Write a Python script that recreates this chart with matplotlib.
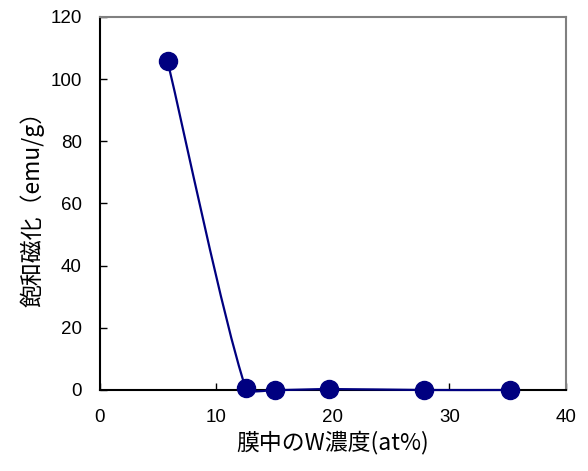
import numpy as np
import matplotlib
matplotlib.use("Agg")
import matplotlib.pyplot as plt
from matplotlib.path import Path
from matplotlib.patches import PathPatch

# W concentration in film (at%) vs saturation magnetization (emu/g)
w_conc = [5.8, 12.5, 15.0, 19.7, 27.8, 35.2]
sat_mag = [105.8, 0.6, 0.0, 0.3, 0.0, 0.0]

x_ticks = [0, 10, 20, 30, 40]
y_ticks = [0, 20, 40, 60, 80, 100, 120]

navy = "#000080"

fig = plt.figure(figsize=(5.88, 4.71), dpi=100)
ax = fig.add_axes([0.170, 0.172, 0.7926, 0.792])
ax.set_xlim(0, 40)
ax.set_ylim(0, 120)

# smoothed line like a spreadsheet "smooth line": Bezier through the points,
# control handles sized by the neighbouring segment length in screen space
sx, sy = 466 / 40, 373 / 120
pts = np.column_stack([np.array(w_conc) * sx, np.array(sat_mag) * sy])
n = len(pts)
tang = []
for i in range(n):
    a = pts[max(i - 1, 0)]
    b = pts[min(i + 1, n - 1)]
    d = b - a
    tang.append(d / np.hypot(*d))
verts = [pts[0]]
codes = [Path.MOVETO]
for i in range(n - 1):
    L = np.hypot(*(pts[i + 1] - pts[i]))
    c1 = pts[i] + tang[i] * L * 0.22
    c2 = pts[i + 1] - tang[i + 1] * L * 0.22
    verts += [c1, c2, pts[i + 1]]
    codes += [Path.CURVE4] * 3
verts = np.array(verts) / [sx, sy]
ax.add_patch(PathPatch(Path(verts, codes), facecolor="none", edgecolor=navy,
                       lw=1.6, zorder=3, clip_on=False))
ax.plot(w_conc, sat_mag, linestyle="none", marker="o", markersize=13,
        color=navy, zorder=4, clip_on=False)

ax.set_xticks(x_ticks)
ax.set_yticks(y_ticks)
ax.tick_params(direction="in", length=5, width=1, labelsize=13.5)
ax.tick_params(axis="x", pad=14)
ax.tick_params(axis="y", pad=13)
for lab in ax.get_xticklabels() + ax.get_yticklabels():
    lab.set_family("Liberation Sans")

for side in ["left", "bottom"]:
    ax.spines[side].set_color("black")
    ax.spines[side].set_linewidth(1.5)
for side in ["top", "right"]:
    ax.spines[side].set_color("#808080")
    ax.spines[side].set_linewidth(1.5)

jp = ["Noto Sans CJK JP", "DejaVu Sans"]
ax.set_xlabel("膜中のW濃度(at%)", family=jp, fontsize=16.5, labelpad=3)
ax.set_ylabel("飽和磁化（emu/g）", family=jp, fontsize=16.5, labelpad=4)

fig.savefig("out.png", dpi=100)
